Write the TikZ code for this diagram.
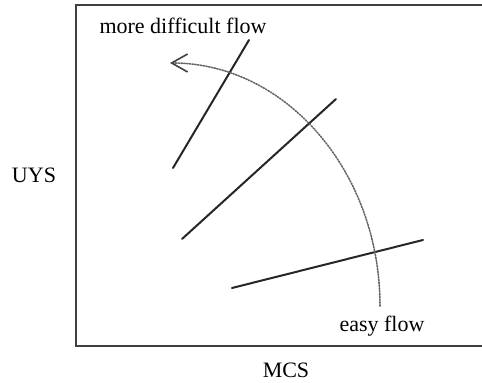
\documentclass[tikz,border=0pt]{standalone}
\usepackage{fontspec}
\setmainfont{Liberation Serif}
\usetikzlibrary{arrows.meta}
\begin{document}
\begin{tikzpicture}[x=0.5pt, y=-0.5pt, line cap=round,
    frame/.style={draw=black!75, line width=1.1pt},
    stroke/.style={draw=black!85, line width=1pt},
    flow/.style={draw=black!60, line width=0.8pt, dash pattern=on 0.7pt off 0.7pt,
                 -{Straight Barb[length=8pt, width=9pt, line width=0.8pt, black!75]}},
    lab/.style={font=\fontsize{11}{13}\selectfont, text=black, inner sep=0pt}]
\useasboundingbox (0,0) rectangle (482,383);
% Coordinates
\coordinate (TL) at (76,5);
\coordinate (TR) at (482,5);
\coordinate (BL) at (76,346);
\coordinate (BR) at (482,346);
\coordinate (A1) at (173,168);  % steep line
\coordinate (A2) at (249,40);
\coordinate (B1) at (182,239);  % middle line
\coordinate (B2) at (336,99);
\coordinate (C1) at (232,288);  % flat line
\coordinate (C2) at (423,240);
\coordinate (E) at (380,306);   % start of the flow arc
% Frame (open on the right)
\draw[frame] (TR) -- (TL) -- (BL) -- (BR);
% Lines
\draw[stroke] (A1) -- (A2);
\draw[stroke] (B1) -- (B2);
\draw[stroke] (C1) -- (C2);
% Flow arc (dotted, arrow at the top)
\draw[flow] (E) arc[start angle=0, end angle=-90, x radius=210, y radius=243];
% Labels
\node[lab] (hard) at (183,26) {more difficult flow};
\node[lab] (easy) at (382,326) {easy flow};
\node[lab] (uys)  at (34,175) {UYS};
\node[lab] (mcs)  at (286,370) {MCS};
\end{tikzpicture}
\end{document}
